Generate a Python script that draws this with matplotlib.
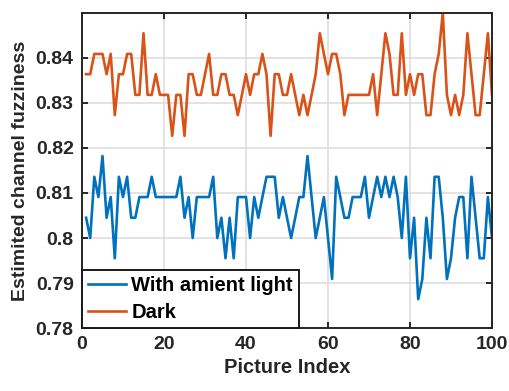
import numpy as np
import matplotlib
matplotlib.use("Agg")
import matplotlib.pyplot as plt
from matplotlib.ticker import FuncFormatter

# Picture indices and estimated channel fuzziness per picture
picture_index = np.arange(1, 101)

with_ambient = [
    0.8045, 0.8000, 0.8136, 0.8091, 0.8182, 0.8045, 0.8091, 0.7955, 0.8136, 0.8091,
    0.8136, 0.8045, 0.8045, 0.8091, 0.8091, 0.8091, 0.8136, 0.8091, 0.8091, 0.8091,
    0.8091, 0.8091, 0.8091, 0.8136, 0.8045, 0.8091, 0.8000, 0.8091, 0.8091, 0.8091,
    0.8091, 0.8136, 0.8000, 0.8045, 0.7955, 0.8045, 0.7955, 0.8091, 0.8091, 0.8091,
    0.8000, 0.8091, 0.8045, 0.8091, 0.8136, 0.8136, 0.8136, 0.8045, 0.8091, 0.8045,
    0.8000, 0.8045, 0.8091, 0.8091, 0.8182, 0.8091, 0.8000, 0.8045, 0.8091, 0.8000,
    0.7909, 0.8136, 0.8091, 0.8045, 0.8045, 0.8091, 0.8091, 0.8091, 0.8136, 0.8045,
    0.8091, 0.8136, 0.8091, 0.8136, 0.8091, 0.8136, 0.8091, 0.8000, 0.8136, 0.7955,
    0.8045, 0.7864, 0.7909, 0.8045, 0.7955, 0.8136, 0.8136, 0.8045, 0.7909, 0.7955,
    0.8045, 0.8091, 0.8091, 0.7955, 0.8136, 0.8045, 0.7955, 0.7955, 0.8091, 0.8000,
]

dark = [
    0.8364, 0.8364, 0.8409, 0.8409, 0.8409, 0.8364, 0.8409, 0.8273, 0.8364, 0.8364,
    0.8409, 0.8409, 0.8318, 0.8318, 0.8455, 0.8318, 0.8318, 0.8364, 0.8318, 0.8318,
    0.8318, 0.8227, 0.8318, 0.8318, 0.8227, 0.8364, 0.8364, 0.8318, 0.8318, 0.8364,
    0.8409, 0.8318, 0.8318, 0.8364, 0.8364, 0.8318, 0.8318, 0.8273, 0.8318, 0.8364,
    0.8318, 0.8364, 0.8364, 0.8409, 0.8364, 0.8227, 0.8364, 0.8364, 0.8318, 0.8318,
    0.8364, 0.8318, 0.8273, 0.8318, 0.8273, 0.8318, 0.8364, 0.8455, 0.8409, 0.8364,
    0.8409, 0.8409, 0.8364, 0.8273, 0.8318, 0.8318, 0.8318, 0.8318, 0.8318, 0.8318,
    0.8364, 0.8273, 0.8364, 0.8455, 0.8409, 0.8318, 0.8318, 0.8455, 0.8318, 0.8364,
    0.8318, 0.8364, 0.8364, 0.8273, 0.8273, 0.8364, 0.8409, 0.8500, 0.8318, 0.8273,
    0.8318, 0.8273, 0.8318, 0.8455, 0.8364, 0.8273, 0.8273, 0.8364, 0.8455, 0.8318,
]

series_labels = ["With amient light", "Dark"]
x_ticks = [0, 20, 40, 60, 80, 100]
y_ticks = [0.78, 0.79, 0.80, 0.81, 0.82, 0.83, 0.84]

plt.rcParams["font.family"] = ["Liberation Sans", "DejaVu Sans"]
plt.rcParams["font.weight"] = "bold"

fig = plt.figure(figsize=(5.10, 3.91), dpi=100)
ax = fig.add_axes([0.1608, 0.1611, 0.8039, 0.8057])

ax.plot(picture_index, with_ambient, color="#0072BD", lw=1.9, label=series_labels[0])
ax.plot(picture_index, dark, color="#D95319", lw=1.9, label=series_labels[1])

ax.set_xlim(0, 100)
ax.set_ylim(0.78, 0.85)
ax.set_xticks(x_ticks)
ax.set_yticks(y_ticks)
ax.yaxis.set_major_formatter(FuncFormatter(lambda v, p: f"{v:.2f}".rstrip("0")))

ax.grid(True, color="#dedede", lw=1.2)
ax.set_axisbelow(True)
for s in ax.spines.values():
    s.set_linewidth(1.4)
    s.set_color("#262626")
ax.tick_params(direction="in", length=4, width=1.4, color="#262626",
               top=True, right=True, labelsize=14, pad=6, labelcolor="#262626")
for lab in ax.get_xticklabels() + ax.get_yticklabels():
    lab.set_fontweight("bold")

ax.set_xlabel("Picture Index", fontsize=14.5, fontweight="bold", color="#262626", labelpad=3)
ax.set_ylabel("Estimited channel fuzziness", fontsize=14, fontweight="bold", color="#262626", labelpad=5)

leg = ax.legend(loc="lower left", borderaxespad=0, fancybox=False, framealpha=1,
                edgecolor="#1a1a1a", handlelength=1.9, handletextpad=0.25,
                borderpad=0.3, labelspacing=0.4, prop={"weight": "bold", "size": 14.5})
leg.get_frame().set_linewidth(1.4)

fig.savefig("out.png", dpi=100)
